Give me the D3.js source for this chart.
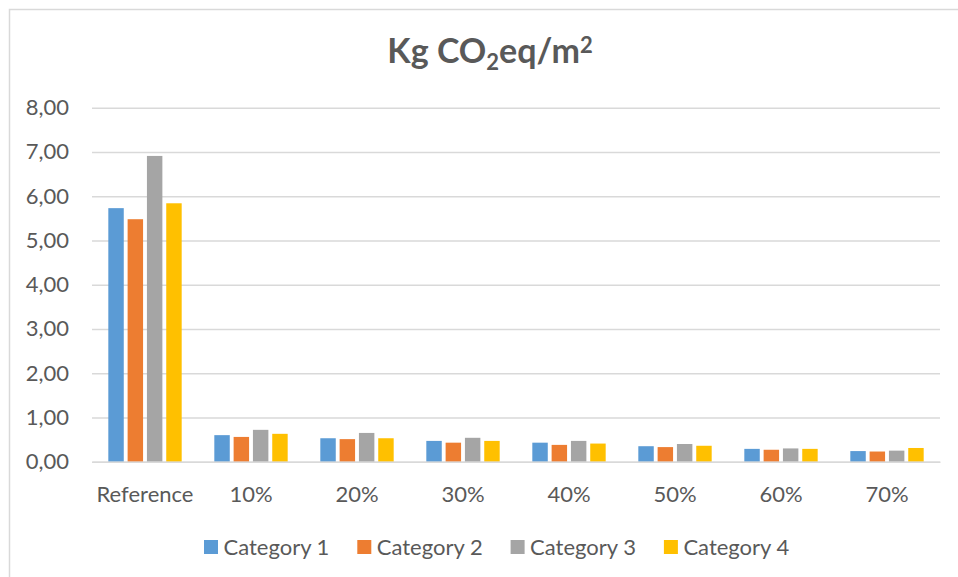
<!DOCTYPE html>
<html>
<head>
<meta charset="utf-8">
<script src="https://cdn.jsdelivr.net/npm/d3@7"></script>
<style>
  html, body { margin: 0; padding: 0; background: #fff; }
  svg { display: block; }
  text { font-family: Lato, "Open Sans", sans-serif; fill: #595959; }
</style>
</head>
<body>
<svg id="chart" width="958" height="577"></svg>
<script>
// Embodied carbon per square metre, by scenario
const categories = ["Reference", "10%", "20%", "30%", "40%", "50%", "60%", "70%"];
const seriesNames = ["Category 1", "Category 2", "Category 3", "Category 4"];
const category1 = [5.73, 0.60, 0.53, 0.47, 0.43, 0.35, 0.29, 0.24];
const category2 = [5.48, 0.56, 0.51, 0.43, 0.38, 0.33, 0.27, 0.23];
const category3 = [6.91, 0.72, 0.65, 0.54, 0.47, 0.40, 0.30, 0.25];
const category4 = [5.84, 0.63, 0.53, 0.47, 0.41, 0.36, 0.29, 0.31];
const yTicks = [0, 1, 2, 3, 4, 5, 6, 7, 8];
const colors = ["#5B9BD5", "#ED7D31", "#A5A5A5", "#FFC000"];

const seriesValues = [category1, category2, category3, category4];
const rows = categories.map((c, i) => ({
  category: c,
  values: seriesNames.map((s, k) => ({ series: s, value: seriesValues[k][i] }))
}));

const svg = d3.select("#chart");
const W = 958, H = 577;
const plot = { left: 92, right: 940, top: 107.7, bottom: 461.7 };

// Chart frame
svg.append("rect")
  .attr("x", 9.5).attr("y", 9.5)
  .attr("width", W + 20).attr("height", H + 20)
  .attr("fill", "#fff")
  .attr("stroke", "#D9D9D9").attr("stroke-width", 1.5);

const x0 = d3.scaleBand().domain(categories).range([plot.left, plot.right]).padding(0);
const x1 = d3.scaleBand().domain(seriesNames).range([0, x0.bandwidth()])
  .paddingInner(0.2).paddingOuter(0.845);
const y = d3.scaleLinear().domain([0, 8]).range([plot.bottom, plot.top]);
const color = d3.scaleOrdinal().domain(seriesNames).range(colors);

// Horizontal gridlines
const yAxis = d3.axisLeft(y).tickValues(yTicks)
  .tickSize(-(plot.right - plot.left)).tickPadding(23)
  .tickFormat(d => d3.format(".2f")(d).replace(".", ","));
const gy = svg.append("g").attr("transform", `translate(${plot.left},0)`).call(yAxis);
gy.select(".domain").remove();
gy.selectAll(".tick line").attr("stroke", "#D9D9D9").attr("stroke-width", 1.5);
gy.selectAll(".tick text").attr("font-size", 22).attr("fill", "#595959");

// Bars
svg.append("g").selectAll("g")
  .data(rows).join("g")
  .attr("transform", d => `translate(${x0(d.category)},0)`)
  .selectAll("rect")
  .data(d => d.values).join("rect")
  .attr("x", d => x1(d.series))
  .attr("width", x1.bandwidth())
  .attr("y", d => y(d.value))
  .attr("height", d => y(0) - y(d.value))
  .attr("fill", d => color(d.series));

// Category axis
const xAxis = d3.axisBottom(x0).tickSize(0).tickPadding(40);
const gx = svg.append("g").attr("transform", `translate(0,${plot.bottom})`).call(xAxis);
gx.select(".domain").attr("stroke", "#D9D9D9").attr("stroke-width", 1.5);
gx.selectAll(".tick text").attr("font-size", 22).attr("fill", "#595959").attr("dy", 0);

// Title with sub/superscript
const title = svg.append("text")
  .attr("x", 490).attr("y", 63)
  .attr("text-anchor", "middle")
  .attr("font-size", 34).attr("font-weight", "bold");
title.append("tspan").text("Kg CO");
title.append("tspan").attr("font-size", 22).attr("dy", 7).text("2");
title.append("tspan").attr("dy", -7).text("eq/m");
title.append("tspan").attr("font-size", 22).attr("dy", -10).text("2");

// Legend
const legend = svg.append("g").attr("transform", "translate(204,540)");
const item = legend.selectAll("g").data(seriesNames).join("g")
  .attr("transform", (d, i) => `translate(${i * 153.3},0)`);
item.append("rect").attr("width", 14).attr("height", 14).attr("fill", d => color(d));
item.append("text").attr("x", 19.5).attr("y", 15).attr("font-size", 22).text(d => d);
</script>
</body>
</html>
